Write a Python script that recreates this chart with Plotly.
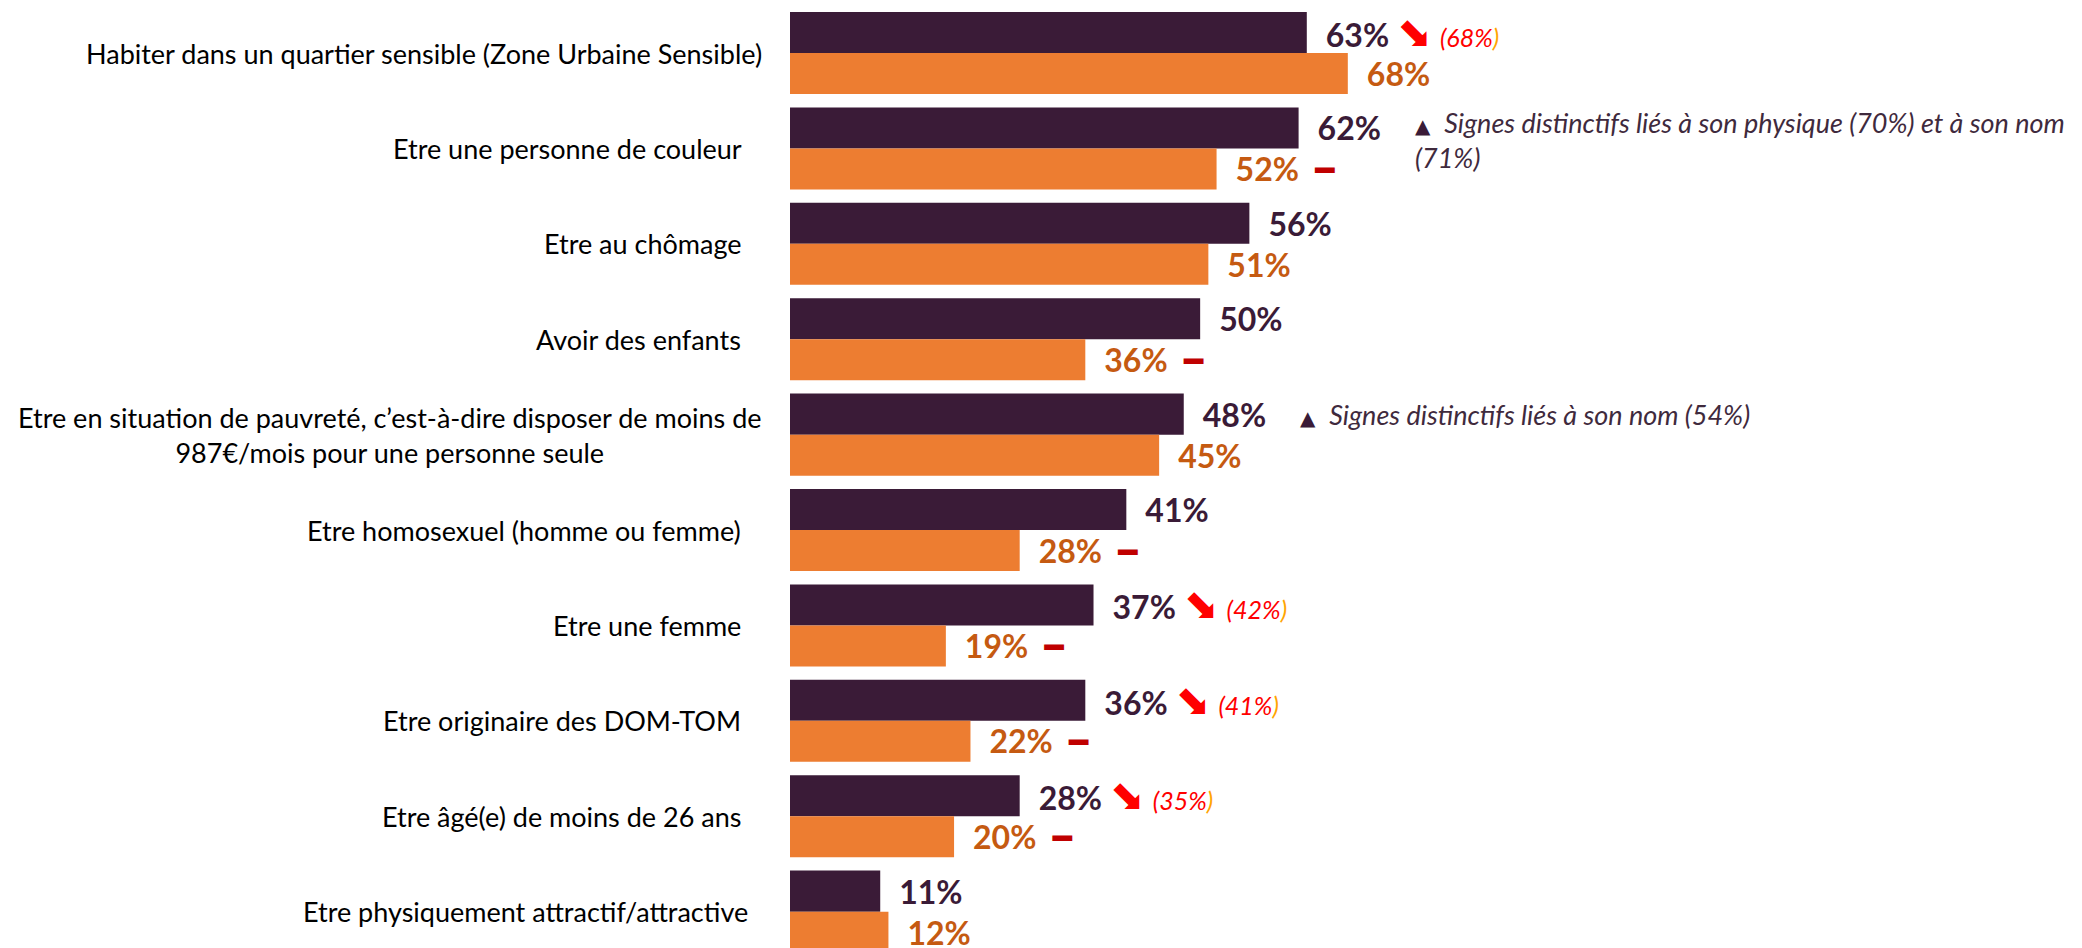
import plotly.graph_objects as go

# --- Data ---
categories = [
    "Habiter dans un quartier sensible (Zone Urbaine Sensible)",
    "Etre une personne de couleur   ",
    "Etre au chômage   ",
    "Avoir des enfants   ",
    "Etre en situation de pauvreté, c’est-à-dire disposer de moins de<br>987€/mois pour une personne seule",
    "Etre homosexuel (homme ou femme)   ",
    "Etre une femme   ",
    "Etre originaire des DOM-TOM   ",
    "Etre âgé(e) de moins de 26 ans   ",
    "Etre physiquement attractif/attractive  ",
]
serie_1 = [63, 62, 56, 50, 48, 41, 37, 36, 28, 11]      # barres violettes
serie_2 = [68, 52, 51, 36, 45, 28, 19, 22, 20, 12]      # barres orange
precedent = [68, None, None, None, None, None, 42, 41, 35, None]   # valeur précédente (baisse)
baisse_2 = [False, True, False, True, False, True, True, True, True, False]
notes = {
    1: "Signes distinctifs liés à son physique (70%) et à son nom<br>(71%)",
    4: "Signes distinctifs liés à son nom (54%)",
}

# --- Colors / fonts ---
VIOLET = "#3A1B37"
ORANGE = "#ED7D31"
ORANGE_TXT = "#C55A11"
RED = "#FF0000"
DARK_RED = "#C00000"
FONT = "Lato"

y_idx = list(range(len(categories)))
EN = "\u2002"
NB = "\u00a0"

# --- Bar labels ---
text_1 = []
for v, p in zip(serie_1, precedent):
    t = f"{EN}{v}%"
    if p is not None:
        t += (f"{NB}<span style='font-family:DejaVu Sans;font-weight:normal;font-size:42px;color:{RED}'>⬊</span>"
              f"{NB}<span style='font-weight:normal;font-size:25px;color:{RED}'><i>({p}%</i></span>"
              f"<span style='font-weight:normal;font-size:25px;color:#FFA500'><i>)</i></span>")
    text_1.append(t)

text_2 = []
for v, b in zip(serie_2, baisse_2):
    t = f"{EN}{v}%"
    if b:
        t += f"{EN}<span style='font-family:DejaVu Sans;font-size:32px;color:{DARK_RED}'>━</span>"
    text_2.append(t)

fig = go.Figure()
fig.add_trace(go.Bar(
    x=serie_1, y=y_idx, orientation="h", name="Série 1",
    marker=dict(color=VIOLET, line=dict(width=0)),
    text=text_1, texttemplate="%{text}", textposition="outside",
    textfont=dict(family=FONT, size=32, color=VIOLET, weight="bold"),
    constraintext="none", cliponaxis=False, showlegend=False,
))
fig.add_trace(go.Bar(
    x=serie_2, y=y_idx, orientation="h", name="Série 2",
    marker=dict(color=ORANGE, line=dict(width=0)),
    text=text_2, texttemplate="%{text}", textposition="outside",
    textfont=dict(family=FONT, size=32, color=ORANGE_TXT, weight="bold"),
    constraintext="none", cliponaxis=False, showlegend=False,
))

# --- Category labels (right-aligned, multi-line centered) ---
annotations = []
for i, cat in enumerate(categories):
    label = cat.rstrip(" ") + NB * (len(cat) - len(cat.rstrip(" ")))
    annotations.append(dict(
        x=0, xref="paper", y=i, yref="y", text=label,
        xanchor="right", yanchor="middle", xshift=-26, align="center",
        showarrow=False, font=dict(family=FONT, size=27, color="black"),
    ))

# --- Side notes ---
for i, note in notes.items():
    annotations.append(dict(
        x=serie_1[i], xref="x", y=i, yref="y",
        text=f"<span style='font-family:DejaVu Sans;font-size:20px;color:{VIOLET}'>▲</span>{NB}{NB}<i>{note}</i>",
        xanchor="left", yanchor="middle", align="left",
        xshift=114, yshift=20 - 12 * note.count("<br>"),
        showarrow=False, font=dict(family=FONT, size=27, color="#3F2A3D"),
    ))

# page body has an 8px margin: figure is shifted by 8px right/down
fig.update_layout(
    width=2074, height=948,
    margin=dict(l=782, r=0, t=0, b=0),
    paper_bgcolor="white", plot_bgcolor="white",
    barmode="group", bargap=0.14, bargroupgap=0,
    xaxis=dict(range=[0, 157.5], visible=False),
    yaxis=dict(range=[9.465, -0.472], visible=False),
    annotations=annotations,
)

fig.write_html("out.html")
